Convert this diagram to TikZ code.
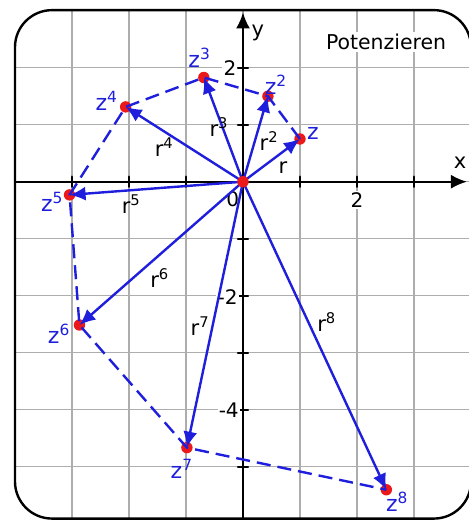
\documentclass[tikz,border=0pt]{standalone}
\usepackage{fontspec}
\setmainfont{DejaVu Sans}
\usetikzlibrary{arrows.meta}
\definecolor{potblue}{RGB}{30,30,220}
\definecolor{potred}{RGB}{235,25,25}

\begin{document}
\begin{tikzpicture}[line join=round, line cap=round, >={Latex[length=8pt,width=7pt]},
		vec/.style={->, potblue, line width=1.2pt},
		poly/.style={potblue, line width=1.2pt, line cap=butt, dash pattern=on 7pt off 3.5pt},
		zlab/.style={potblue, font=\fontsize{11}{13}\selectfont, inner sep=0pt},
		rlab/.style={font=\fontsize{10.5}{12}\selectfont, inner sep=0pt},
		num/.style={font=\fontsize{10}{12}\selectfont, fill=white, inner sep=0.6pt}]
	\useasboundingbox (-4.263,-5.935) rectangle (3.965,3.188);
	
	\coordinate (O) at (0,0);
	\coordinate (z1) at (1,0.75);
	\coordinate (z2) at (0.4375,1.5);
	\coordinate (z3) at (-0.6875,1.8281);
	\coordinate (z4) at (-2.0586,1.3125);
	\coordinate (z5) at (-3.0430,-0.2314);
	\coordinate (z6) at (-2.8694,-2.5136);
	\coordinate (z7) at (-0.9842,-4.6657);
	\coordinate (z8) at (2.5151,-5.4039);
	
	\coordinate (xl) at (-4,0);
	\coordinate (xr) at (3.93,0);
	\coordinate (yb) at (0,-5.9);
	\coordinate (yt) at (0,2.97);
	
	% grid and frame
	\begin{scope}
		\clip[rounded corners=0.65cm] (-4,-5.91) rectangle (4,3.01);
		\draw[black!32, line width=0.6pt] (-4,-6) grid (4,3);
	\end{scope}
	\draw[line width=1.2pt, rounded corners=0.65cm] (-4,-5.91) rectangle (4,3.01);
	
	% axes
	\draw[->, line width=1.1pt] (xl)--(xr);
	\draw[->, line width=1.1pt] (yb)--(yt);
	\foreach \t in {-3,-2,-1,1,2,3} \draw[line width=1.1pt] (\t,-0.09)--(\t,0.09);
	\foreach \t in {-5,-4,-3,-2,-1,1,2} \draw[line width=1.1pt] (-0.09,\t)--(0.09,\t);
	
	\node[rlab] (lx) at (3.81,0.33) {x};
	\node[rlab] (ly) at (0.26,2.61) {y};
	\node[num] (n2x) at (2.0,-0.32) {2};
	\node[num] (n0) at (-0.18,-0.31) {0};
	\node[num] (n2y) at (-0.23,2.0) {2};
	\node[num] (nm2) at (-0.27,-2.02) {-2};
	\node[num] (nm4) at (-0.25,-4.0) {-4};
	\node[font=\fontsize{10.2}{12}\selectfont, fill=white, inner sep=1pt] (title) at (2.51,2.45) {Potenzieren};
	
	% powers of z
	\foreach \n in {1,...,8} \fill[potred] (z\n) circle (0.1);
	\draw[poly] (z1)--(z2)--(z3)--(z4)--(z5)--(z6)--(z7)--(z8);
	\foreach \n in {1,...,8} \draw[vec] (O)--(z\n);
	\fill[potred] (O) circle (0.1);
	
	\node[zlab] (lz1) at ([shift={(24:0.25)}]z1) {z};
	\foreach \n/\g/\d in {2/55/0.25, 3/102/0.35, 4/163/0.345, 5/203/0.33, 6/204/0.39, 7/257/0.39, 8/-49/0.29} {
		\node[zlab] (lz\n) at ([shift={(\g:\d)}]z\n) {z\textsuperscript{\n}};
	}
	
	\node[rlab] (lr1) at (0.70,0.24) {r};
	\foreach \n/\u/\v in {2/0.46/0.71, 3/-0.42/0.96, 4/-1.38/0.61, 5/-1.96/-0.39, 6/-1.46/-1.69, 7/-0.75/-2.53, 8/1.47/-2.46} {
		\node[rlab] (lr\n) at (\u,\v) {r\textsuperscript{\n}};
	}
\end{tikzpicture}
\end{document}
